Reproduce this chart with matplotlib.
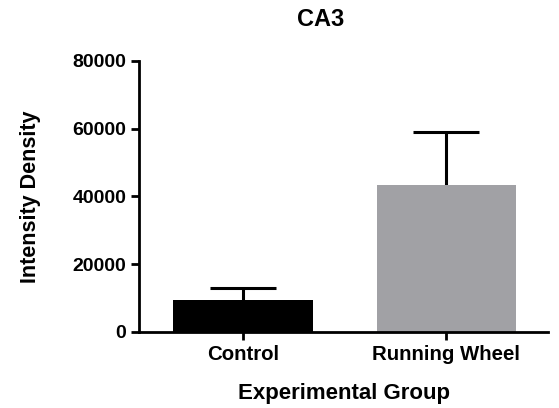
import numpy as np
import matplotlib.pyplot as plt

# Group means and upper error (SD) for CA3 intensity density
groups = ['Control', 'Running Wheel']
means = [9400, 43300]
errors = [3500, 15600]
colors = ['#000000', '#a1a1a5']

plt.rcParams['font.family'] = ['Liberation Sans', 'DejaVu Sans']
plt.rcParams['font.weight'] = 'bold'

fig = plt.figure(figsize=(5.59, 4.08), dpi=100)
ax = fig.add_axes([139 / 559, 1 - 332 / 408, 409 / 559, 271.3 / 408])

x = np.arange(len(groups))
ax.bar(x, means, width=0.685, color=colors, zorder=2)
eb = ax.errorbar(x, means, yerr=[np.zeros(len(errors)), errors], fmt='none',
                 ecolor='black', elinewidth=2.2, capsize=24, capthick=2.2, zorder=1)
# only the upper cap is shown
eb[1][0].set_visible(False)

ax.set_xlim(-0.512, 1.502)
ax.set_ylim(0, 80000)
ax.set_yticks([0, 20000, 40000, 60000, 80000])
ax.set_xticks(x)
ax.set_xticklabels(groups)

for side in ['top', 'right']:
    ax.spines[side].set_visible(False)
for side in ['left', 'bottom']:
    ax.spines[side].set_linewidth(2)
ax.tick_params(axis='both', width=2, length=6, labelsize=14, pad=3)
ax.tick_params(axis='x', labelsize=14.7)

ax.set_xlabel('Experimental Group', fontsize=16, fontweight='bold', labelpad=14)
ax.set_ylabel('Intensity Density', fontsize=15.5, fontweight='bold', labelpad=23)
fig.text(321 / 559, 1 - 20 / 408, 'CA3', ha='center', va='center',
         fontsize=17, fontweight='bold')

fig.savefig('out.png', dpi=100)
